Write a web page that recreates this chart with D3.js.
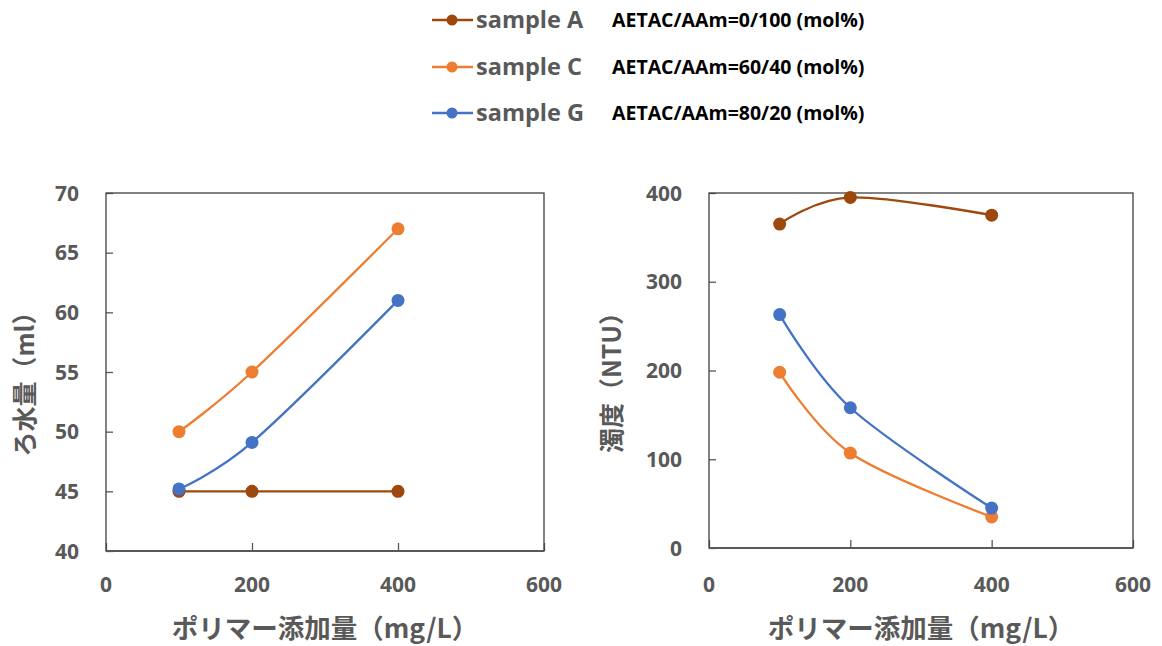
<!DOCTYPE html>
<html>
<head>
<meta charset="utf-8">
<script src="https://cdn.jsdelivr.net/npm/d3@7"></script>
<style>
  html, body { margin: 0; padding: 0; background: #ffffff; }
  svg { display: block; }
</style>
</head>
<body>
<svg id="chart" width="1162" height="646"></svg>
<script>
// ---- data ----
const dosage = [100, 200, 400];
const seriesNames = ["sample A", "sample C", "sample G"];
const seriesNotes = ["AETAC/AAm=0/100 (mol%)", "AETAC/AAm=60/40 (mol%)", "AETAC/AAm=80/20 (mol%)"];
const seriesColors = ["#9E480E", "#ED7D31", "#4472C4"];
const filtrateA = [45, 45, 45];
const filtrateC = [50, 55, 67];
const filtrateG = [45.2, 49.1, 61];
const turbidityA = [365, 395, 375];
const turbidityC = [198, 107, 35];
const turbidityG = [263, 158, 45];
const xTicks = [0, 200, 400, 600];
const leftYTicks = [40, 45, 50, 55, 60, 65, 70];
const rightYTicks = [0, 100, 200, 300, 400];
const xTitle = "ポリマー添加量（mg/L）";
const leftYTitle = "ろ水量（ml）";
const rightYTitle = "濁度（NTU）";

const svg = d3.select("#chart");
const numFont = "'Open Sans', 'Noto Sans', sans-serif";
const jpFont = "'Noto Sans CJK JP', 'Noto Sans', sans-serif";
const grey = "#595959";

function panel(opts) {
  const { x0, x1, y0, y1, yDomain, yTicks, series, yTitle, yTitleX } = opts;
  const x = d3.scaleLinear().domain([0, 600]).range([x0, x1]);
  const y = d3.scaleLinear().domain(yDomain).range([y1, y0]);
  const g = svg.append("g");

  // ticks inside
  const yAxis = d3.axisRight(y).tickValues(yTicks).tickSize(7).tickFormat("");
  g.append("g").attr("transform", `translate(${x0},0)`).call(yAxis)
    .call(s => s.select(".domain").remove())
    .call(s => s.selectAll("line").attr("stroke", grey).attr("stroke-width", 1.3));
  const xAxis = d3.axisTop(x).tickValues(xTicks).tickSize(8).tickFormat("");
  g.append("g").attr("transform", `translate(0,${y1})`).call(xAxis)
    .call(s => s.select(".domain").remove())
    .call(s => s.selectAll("line").attr("stroke", grey).attr("stroke-width", 1.3));

  // frame
  g.append("rect").attr("x", x0).attr("y", y0).attr("width", x1 - x0).attr("height", y1 - y0)
    .attr("fill", "none").attr("stroke", "#404040").attr("stroke-width", 1.3);
  g.append("line").attr("x1", x0).attr("x2", x1).attr("y1", y1).attr("y2", y1)
    .attr("stroke", grey).attr("stroke-width", 2);

  // tick labels
  g.selectAll(".ylab").data(yTicks).enter().append("text")
    .attr("x", x0 - 27).attr("y", d => y(d)).attr("dy", "0.36em")
    .attr("text-anchor", "end").attr("font-family", numFont).attr("font-weight", "bold")
    .attr("font-size", 21).attr("fill", grey).text(d => d);
  g.selectAll(".xlab").data(xTicks).enter().append("text")
    .attr("x", d => x(d)).attr("y", 584).attr("dy", "0.36em")
    .attr("text-anchor", "middle").attr("font-family", numFont).attr("font-weight", "bold")
    .attr("font-size", 21).attr("fill", grey).text(d => d);

  // titles
  g.append("text").attr("x", (x0 + x1) / 2).attr("y", 628).attr("dy", "0.36em")
    .attr("text-anchor", "middle").attr("font-family", jpFont).attr("font-weight", "bold")
    .attr("font-size", 26.5).attr("fill", grey).text(xTitle);
  g.append("text").attr("transform", `translate(${yTitleX},${(y0 + y1) / 2 + 6}) rotate(-90)`)
    .attr("dy", "0.36em")
    .attr("text-anchor", "middle").attr("font-family", jpFont).attr("font-weight", "bold")
    .attr("font-size", 25).attr("fill", grey).text(yTitle);

  const line = d3.line().x(d => x(d[0])).y(d => y(d[1])).curve(d3.curveCardinal.tension(0));
  series.forEach((vals, i) => {
    const pts = dosage.map((d, j) => [d, vals[j]]);
    g.append("path").datum(pts).attr("d", line).attr("fill", "none")
      .attr("stroke", seriesColors[i]).attr("stroke-width", 2.3);
  });
  series.forEach((vals, i) => {
    const pts = dosage.map((d, j) => [d, vals[j]]);
    g.selectAll(null).data(pts).enter().append("circle")
      .attr("cx", d => x(d[0])).attr("cy", d => y(d[1])).attr("r", 6.5)
      .attr("fill", seriesColors[i]);
  });
}

panel({ x0: 106, x1: 544, y0: 193, y1: 551, yDomain: [40, 70], yTicks: leftYTicks,
  series: [filtrateA, filtrateC, filtrateG], yTitle: leftYTitle, yTitleX: 25 });
panel({ x0: 709, x1: 1133, y0: 193, y1: 548, yDomain: [0, 400], yTicks: rightYTicks,
  series: [turbidityA, turbidityC, turbidityG], yTitle: rightYTitle, yTitleX: 612 });

// legend
const rowsY = [20, 67, 113];
const lg = svg.append("g");
seriesNames.forEach((name, i) => {
  const yy = rowsY[i];
  lg.append("line").attr("x1", 432).attr("x2", 473).attr("y1", yy).attr("y2", yy)
    .attr("stroke", seriesColors[i]).attr("stroke-width", 2.5);
  lg.append("circle").attr("cx", 452).attr("cy", yy).attr("r", 5.5).attr("fill", seriesColors[i]);
  lg.append("text").attr("x", 476).attr("y", yy).attr("dy", "0.36em")
    .attr("font-family", numFont).attr("font-weight", "bold").attr("font-size", 23.5)
    .attr("fill", grey).text(name);
  lg.append("text").attr("x", 612).attr("y", yy).attr("dy", "0.36em")
    .attr("font-family", numFont).attr("font-weight", "bold").attr("font-size", 19.5)
    .attr("fill", "#000000").text(seriesNotes[i]);
});
</script>
</body>
</html>
